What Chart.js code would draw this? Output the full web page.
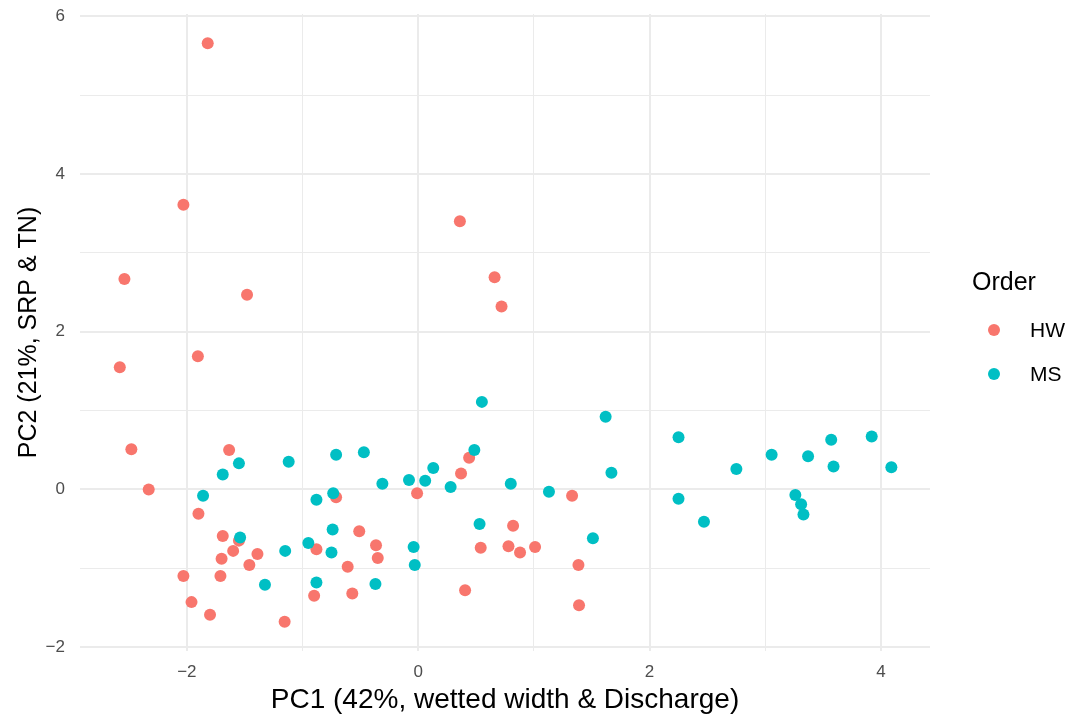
<!DOCTYPE html>
<html>
<head>
<meta charset="utf-8">
<script src="https://cdn.jsdelivr.net/npm/chart.js@4/dist/chart.umd.min.js"></script>
<style>
  html, body { margin: 0; padding: 0; background: #fff; }
  #wrap { width: 1071px; height: 719px; }
</style>
</head>
<body>
<div id="wrap"><canvas id="pcaChart" width="1071" height="719"></canvas></div>
<script>
// group names + colours (ggplot defaults)
const groups = ['HW', 'MS'];
const groupColors = ['#F8766D', '#00BFC4'];

// HW sites: PC1 / PC2
const hwPC1 = [-1.82, -2.03, -2.54, -1.48, -2.58, -1.905, 0.36, 0.66, 0.72, -2.48, -2.33, -1.635,
  -1.90, -1.69, -1.55, -1.60, -1.70, -1.39, -1.46, -2.03, -1.71, -1.96, -1.80, -1.155,
  -0.71, -0.88, -0.51, -0.365, -0.35, -0.61, -0.90, -0.57, -0.01, 0.44, 0.37, 0.54,
  0.82, 0.78, 0.88, 1.01, 1.33, 1.385, 1.39, 0.405];
const hwPC2 = [5.66, 3.61, 2.67, 2.47, 1.55, 1.69, 3.40, 2.69, 2.32, 0.51, 0.00, 0.50,
  -0.31, -0.59, -0.65, -0.78, -0.88, -0.82, -0.96, -1.10, -1.10, -1.43, -1.59, -1.68,
  -0.10, -0.76, -0.53, -0.71, -0.87, -0.98, -1.35, -1.32, -0.05, 0.40, 0.20, -0.74,
  -0.46, -0.72, -0.80, -0.73, -0.08, -0.96, -1.47, -1.28];

// MS sites: PC1 / PC2
const msPC1 = [-1.55, -1.69, -1.86, -1.12, -0.71, -0.47, -0.31, -0.08, -0.735, -0.88, -1.54, -1.15,
  -0.95, -0.74, -0.75, -1.325, -0.88, -0.37, -0.04, -0.03, 0.55, 1.62, 0.485, 0.13,
  0.06, 0.28, 0.80, 1.13, 1.67, 0.53, 1.51, 2.25, 2.25, 2.47, 2.75, 3.055,
  3.37, 3.57, 3.59, 3.92, 4.09, 3.26, 3.31, 3.33];
const msPC2 = [0.33, 0.19, -0.08, 0.35, 0.44, 0.47, 0.07, 0.12, -0.05, -0.13, -0.61, -0.78,
  -0.68, -0.51, -0.80, -1.21, -1.18, -1.20, -0.73, -0.96, 1.11, 0.92, 0.50, 0.27,
  0.11, 0.03, 0.07, -0.03, 0.21, -0.44, -0.62, 0.66, -0.12, -0.41, 0.26, 0.44,
  0.42, 0.63, 0.29, 0.67, 0.28, -0.07, -0.19, -0.32];

// axis labels
const xTitle = 'PC1 (42%, wetted width & Discharge)';
const yTitle = 'PC2 (21%, SRP & TN)';
const legendTitle = 'Order';

const toPoints = (xs, ys) => xs.map((x, i) => ({ x, y: ys[i] }));

const FONT = '"Liberation Sans", Arial, sans-serif';
const gridColor = '#EBEBEB';
const gridWidth = ctx => (ctx.tick && Math.abs(ctx.tick.value % 2) === 0 ? 2 : 1);
// only even ticks get a label, with a real minus sign like ggplot
const evenOnly = v => (Math.abs(v % 2) === 0 ? String(v).replace('-', '\u2212') : '');

// ggplot-style legend on the right
const sideLegend = {
  id: 'sideLegend',
  afterDraw(chart) {
    const c = chart.ctx;
    c.save();
    c.textBaseline = 'middle';
    c.textAlign = 'left';
    c.fillStyle = '#000';
    c.font = '25px ' + FONT;
    c.fillText(legendTitle, 972, 283);
    c.font = '21px ' + FONT;
    groups.forEach((g, i) => {
      const y = 330 + i * 44;
      c.beginPath();
      c.fillStyle = groupColors[i];
      c.arc(994, y, 6, 0, Math.PI * 2);
      c.fill();
      c.fillStyle = '#000';
      c.fillText(g, 1030, y + 1);
    });
    c.restore();
  }
};

new Chart(document.getElementById('pcaChart'), {
  type: 'scatter',
  data: {
    datasets: [
      { label: groups[0], data: toPoints(hwPC1, hwPC2), backgroundColor: groupColors[0], order: 2 },
      { label: groups[1], data: toPoints(msPC1, msPC2), backgroundColor: groupColors[1], order: 1 }
    ]
  },
  options: {
    responsive: false,
    animation: false,
    layout: { padding: { top: 14, right: 141, left: 0, bottom: 0 } },
    elements: { point: { radius: 6, borderWidth: 0, hoverRadius: 6 } },
    plugins: { legend: { display: false }, tooltip: { enabled: false } },
    scales: {
      x: {
        type: 'linear',
        min: -2.924,
        max: 4.424,
        border: { display: false },
        grid: { color: gridColor, lineWidth: gridWidth, drawTicks: false },
        ticks: { stepSize: 1, includeBounds: false, autoSkip: false, maxRotation: 0,
          padding: 11, color: '#4D4D4D', font: { family: FONT, size: 17 }, callback: evenOnly },
        title: { display: true, text: xTitle, color: '#000', font: { family: FONT, size: 28 },
          padding: { top: 0, bottom: 2 } },
        afterFit: s => { s.height = 68; s.paddingLeft = 0; s.paddingRight = 0; }
      },
      y: {
        type: 'linear',
        min: -2.05,
        max: 6.03,
        border: { display: false },
        grid: { color: gridColor, lineWidth: gridWidth, drawTicks: false },
        ticks: { stepSize: 1, includeBounds: false, autoSkip: false,
          padding: 15, color: '#4D4D4D', font: { family: FONT, size: 17 }, callback: evenOnly },
        title: { display: true, text: yTitle, color: '#000', font: { family: FONT, size: 25 },
          padding: { top: 14, bottom: 0 } },
        afterFit: s => { s.width = 80; s.paddingTop = 0; s.paddingBottom = 0; }
      }
    }
  },
  plugins: [sideLegend]
});
</script>
</body>
</html>
